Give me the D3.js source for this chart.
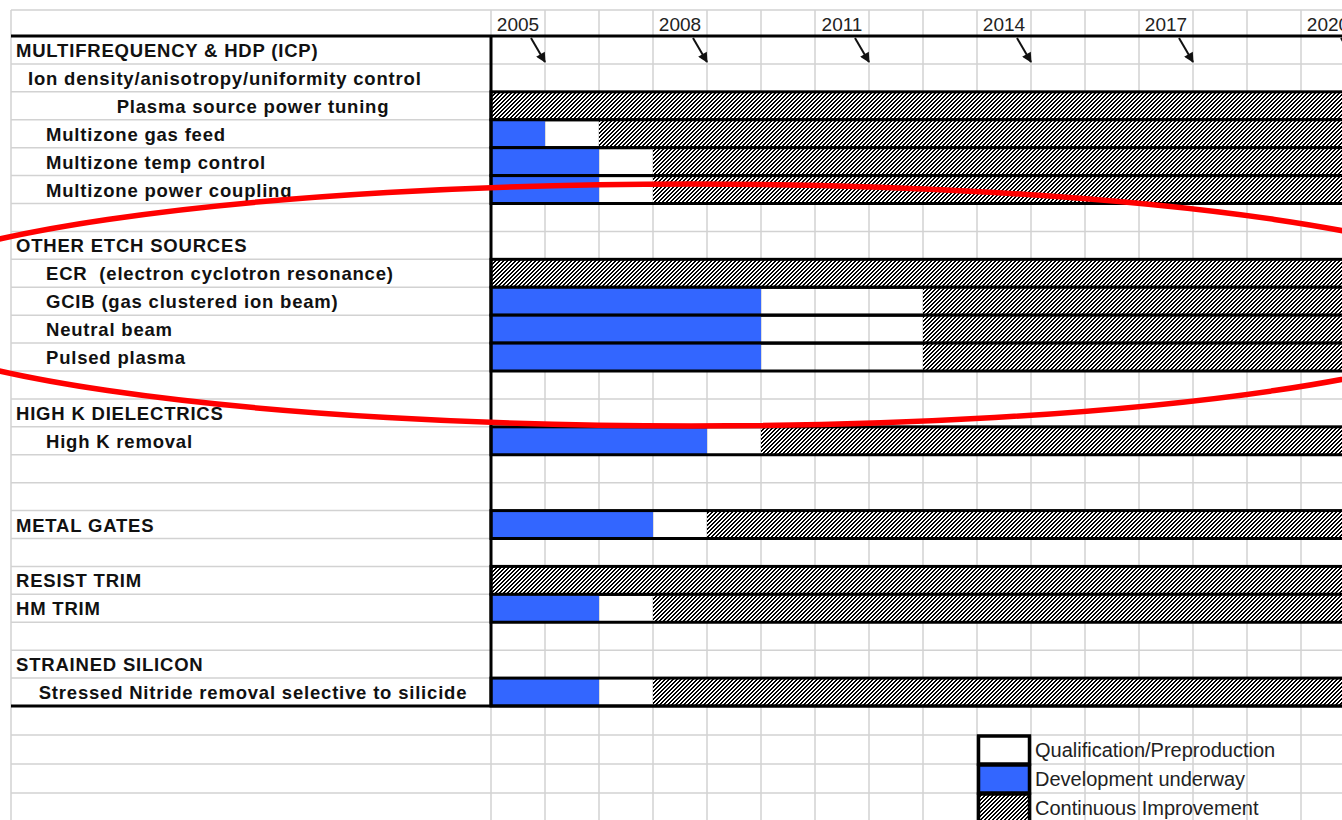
<!DOCTYPE html>
<html>
<head>
<meta charset="utf-8">
<script src="https://cdn.jsdelivr.net/npm/d3@7"></script>
<style>
  body { margin: 0; background: #fff; }
  svg { display: block; font-family: "Liberation Sans", Arial, sans-serif; }
</style>
</head>
<body>
<svg id="main" width="1342" height="820"></svg>
<script>
const width = 1342;
const height = 820;

// row labels of the roadmap (empty string = blank spreadsheet row)
const rowLabels = [
    'MULTIFREQUENCY & HDP (ICP)',
    'Ion density/anisotropy/uniformity control',
    'Plasma source power tuning',
    'Multizone gas feed',
    'Multizone temp control',
    'Multizone power coupling',
    '',
    'OTHER ETCH SOURCES',
    'ECR  (electron cyclotron resonance)',
    'GCIB (gas clustered ion beam)',
    'Neutral beam',
    'Pulsed plasma',
    '',
    'HIGH K DIELECTRICS',
    'High K removal',
    '',
    '',
    'METAL GATES',
    '',
    'RESIST TRIM',
    'HM TRIM',
    '',
    'STRAINED SILICON',
    'Stressed Nitride removal selective to silicide'
];
// section / item / sub / centre
const rowKinds = [
    'section', 'sub', 'centre', 'item', 'item', 'item', '',
    'section', 'item', 'item', 'item', 'item', '',
    'section', 'item', '', '',
    'section', '',
    'section', 'section', '',
    'section', 'centre'
];

// bars: development from 2005 until devUntil, qualification until qualUntil, then improvement
const barRows = [
    'Plasma source power tuning',
    'Multizone gas feed',
    'Multizone temp control',
    'Multizone power coupling',
    'ECR  (electron cyclotron resonance)',
    'GCIB (gas clustered ion beam)',
    'Neutral beam',
    'Pulsed plasma',
    'High K removal',
    'METAL GATES',
    'RESIST TRIM',
    'HM TRIM',
    'Stressed Nitride removal selective to silicide'
];
const devUntil  = [2005, 2006, 2007, 2007, 2005, 2010, 2010, 2010, 2009, 2008, 2005, 2007, 2007];
const qualUntil = [2005, 2007, 2008, 2008, 2005, 2013, 2013, 2013, 2010, 2009, 2005, 2008, 2008];
const startYear = 2005;
const endYear = 2021;

const tickYears = [2005, 2008, 2011, 2014, 2017, 2020];
const legendLabels = ['Qualification/Preproduction', 'Development underway', 'Continuous Improvement'];

const blue = '#3366ff';
const gridColor = '#d2d2d2';
const sheetLeft = 11;
const labelRight = 491;
const sheetTop = 10;

const svg = d3.select('#main');

const x = d3.scaleLinear().domain([startYear, endYear]).range([labelRight, labelRight + 54 * (endYear - startYear)]);
const cols = d3.scaleBand().domain(d3.range(startYear, endYear)).range(x.range());
// data rows, then the taller spreadsheet rows below
const y = d3.scaleLinear().domain([0, 24, 28]).range([36, 706, 822]);
const rowH = i => y(i + 1) - y(i);

// hatch pattern
const defs = svg.append('defs');
const pat = defs.append('pattern')
    .attr('id', 'hatch')
    .attr('patternUnits', 'userSpaceOnUse')
    .attr('width', 4)
    .attr('height', 4);
pat.append('rect').attr('width', 4).attr('height', 4).attr('fill', '#fff');
[[3, 0], [2, 1], [1, 2], [0, 3]].forEach(([px, py]) => {
    pat.append('rect').attr('x', px).attr('y', py).attr('width', 2).attr('height', 1).attr('fill', '#000');
    if (px === 3) pat.append('rect').attr('x', 0).attr('y', py).attr('width', 1).attr('height', 1).attr('fill', '#000');
});
pat.selectAll('rect').attr('shape-rendering', 'crispEdges');

defs.append('marker')
    .attr('id', 'arrow')
    .attr('viewBox', '0 0 10 10')
    .attr('refX', 9)
    .attr('refY', 5)
    .attr('markerUnits', 'userSpaceOnUse')
    .attr('markerWidth', 12)
    .attr('markerHeight', 10)
    .attr('orient', 'auto')
    .append('path')
    .attr('d', 'M0,0 L10,5 L0,10 z')
    .attr('fill', '#111');

// grid
const grid = svg.append('g').attr('stroke', gridColor).attr('stroke-width', 1.5);
grid.selectAll('.hline')
    .data(d3.range(0, 29))
    .join('line')
    .attr('x1', sheetLeft).attr('x2', width)
    .attr('y1', d => y(d)).attr('y2', d => y(d));
grid.append('line').attr('x1', sheetLeft).attr('x2', width).attr('y1', sheetTop).attr('y2', sheetTop);
grid.selectAll('.vline')
    .data([sheetLeft].concat(cols.domain().map(d => cols(d))))
    .join('line')
    .attr('x1', d => d).attr('x2', d => d)
    .attr('y1', sheetTop).attr('y2', height);

// year labels
const axis = svg.append('g')
    .attr('transform', `translate(0, 31)`)
    .call(d3.axisTop(cols).tickValues(tickYears).tickSize(0).tickPadding(0));
axis.select('.domain').remove();
axis.selectAll('text')
    .attr('font-size', 19)
    .attr('font-family', '"Liberation Sans", Arial, sans-serif')
    .attr('fill', '#222');

// bars
const bars = svg.append('g');
barRows.forEach((name, i) => {
    const r = rowLabels.indexOf(name);
    const g = bars.append('g');
    const y0 = y(r), h = rowH(r);
    g.append('rect')
        .attr('x', x(startYear)).attr('y', y0)
        .attr('width', x(devUntil[i]) - x(startYear)).attr('height', h)
        .attr('fill', blue);
    g.append('rect')
        .attr('x', x(qualUntil[i])).attr('y', y0)
        .attr('width', x(endYear) - x(qualUntil[i])).attr('height', h)
        .attr('fill', 'url(#hatch)');
    g.append('rect')
        .attr('x', x(startYear)).attr('y', y0)
        .attr('width', x(endYear) - x(startYear)).attr('height', h)
        .attr('fill', 'none')
        .attr('stroke', '#000')
        .attr('stroke-width', 3);
});

// frame lines
const frame = svg.append('g').attr('stroke', '#000').attr('stroke-width', 3);
frame.append('line').attr('x1', sheetLeft).attr('x2', width).attr('y1', y(0)).attr('y2', y(0));
frame.append('line').attr('x1', sheetLeft).attr('x2', width).attr('y1', y(24)).attr('y2', y(24));
frame.append('line').attr('x1', labelRight).attr('x2', labelRight).attr('y1', y(0)).attr('y2', y(24));

// row labels
const xByKind = { section: 16, item: 46, sub: 28, centre: (sheetLeft + labelRight) / 2 + 2 };
svg.append('g')
    .selectAll('text')
    .data(rowLabels.map((d, i) => ({ label: d, kind: rowKinds[i], i })).filter(d => d.label))
    .join('text')
    .attr('x', d => xByKind[d.kind])
    .attr('y', d => y(d.i) + 21)
    .attr('text-anchor', d => d.kind === 'centre' ? 'middle' : 'start')
    .attr('font-size', 18.5)
    .attr('font-weight', 'bold')
    .attr('letter-spacing', 0.8)
    .attr('fill', '#111')
    .style('white-space', 'pre')
    .text(d => d.label);

// arrows under the year labels
svg.append('g')
    .selectAll('line')
    .data(tickYears)
    .join('line')
    .attr('x1', d => x(d + 1) - 14)
    .attr('y1', y(0) + 2)
    .attr('x2', d => x(d + 1))
    .attr('y2', y(0) + 26)
    .attr('stroke', '#111')
    .attr('stroke-width', 2)
    .attr('marker-end', 'url(#arrow)');

// legend
const legendFills = ['#fff', blue, 'url(#hatch)'];
const lg = svg.append('g');
const lx0 = x(2014), lx1 = x(2015);
legendLabels.forEach((d, i) => {
    const r = 25 + i;
    lg.append('rect')
        .attr('x', lx0 + 1.5).attr('y', y(r) + 1)
        .attr('width', lx1 - lx0 - 3).attr('height', rowH(r) - 1)
        .attr('fill', legendFills[i])
        .attr('stroke', '#000')
        .attr('stroke-width', 3.5);
    lg.append('text')
        .attr('x', lx1 + 4)
        .attr('y', y(r) + 22)
        .attr('font-size', 20)
        .attr('fill', '#222')
        .text(d);
});

// red annotation ellipse
svg.append('ellipse')
    .attr('cx', 691)
    .attr('cy', 305)
    .attr('rx', 825)
    .attr('ry', 121)
    .attr('fill', 'none')
    .attr('stroke', '#ff0000')
    .attr('stroke-width', 5.5);
</script>
</body>
</html>
